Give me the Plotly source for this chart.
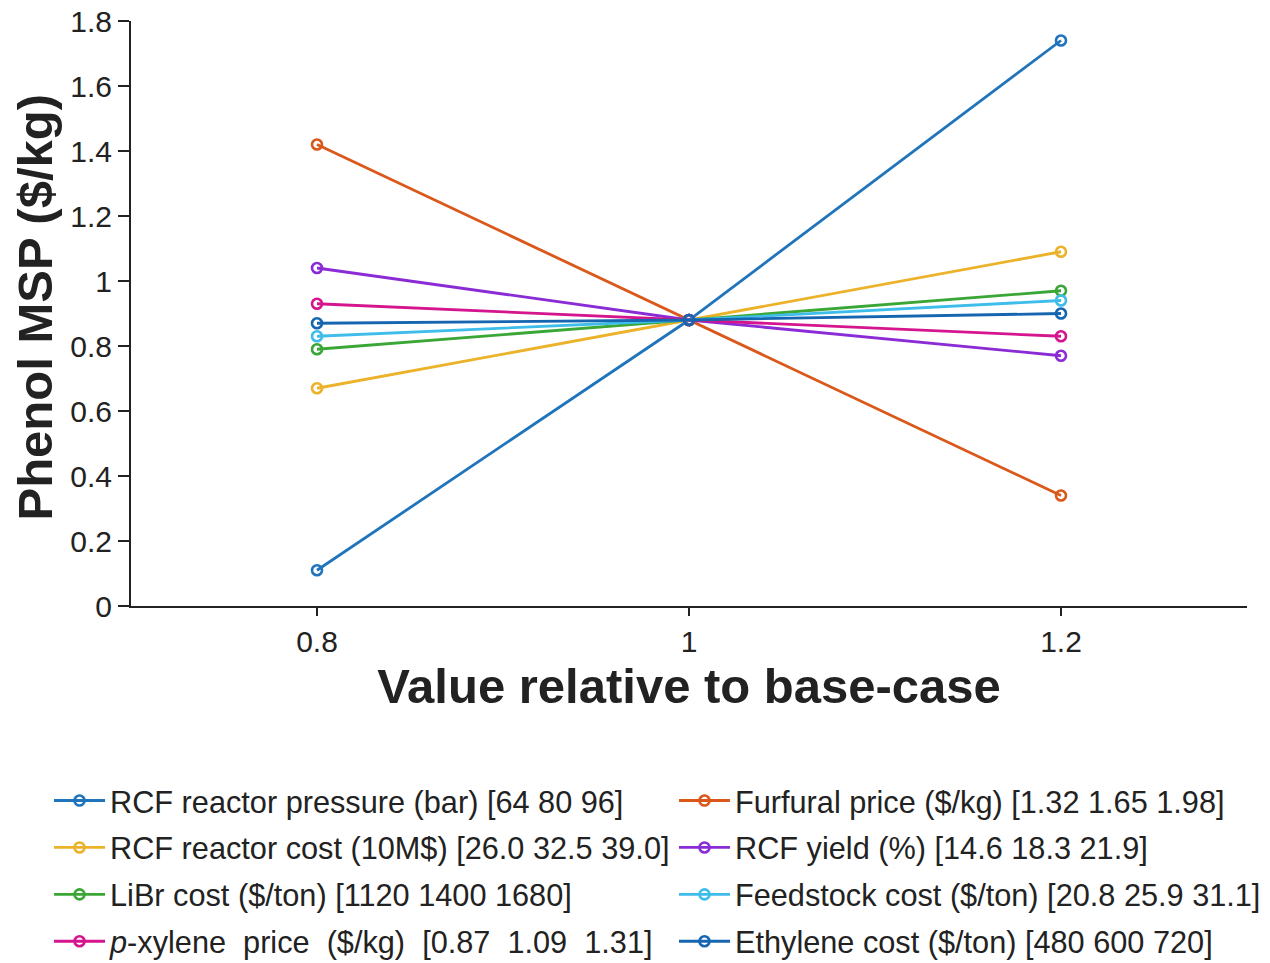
import plotly.graph_objects as go

x_levels = [0.8, 1.0, 1.2]

series_names = [
    "RCF reactor pressure (bar) [64 80 96]",
    "Furfural price ($/kg) [1.32 1.65 1.98]",
    "RCF reactor cost (10M$) [26.0 32.5 39.0]",
    "RCF yield (%) [14.6 18.3 21.9]",
    "LiBr cost ($/ton) [1120 1400 1680]",
    "Feedstock cost ($/ton) [20.8 25.9 31.1]",
    "<i>p</i>-xylene  price  ($/kg)  [0.87  1.09  1.31]",
    "Ethylene cost ($/ton) [480 600 720]",
]

rcf_pressure = [0.11, 0.88, 1.74]
furfural_price = [1.42, 0.88, 0.34]
rcf_reactor_cost = [0.67, 0.88, 1.09]
rcf_yield = [1.04, 0.88, 0.77]
libr_cost = [0.79, 0.88, 0.97]
feedstock_cost = [0.83, 0.88, 0.94]
pxylene_price = [0.93, 0.88, 0.83]
ethylene_cost = [0.87, 0.88, 0.90]

series_values = [rcf_pressure, furfural_price, rcf_reactor_cost, rcf_yield,
                 libr_cost, feedstock_cost, pxylene_price, ethylene_cost]

colors = ["#1F74BC", "#D9581A", "#EBB22A", "#8A2BD6",
          "#3AA636", "#3EBDEB", "#D4158E", "#1565B0"]

y_title = "<b>Phenol MSP ($/kg)</b>"
x_title = "<b>Value relative to base-case</b>"

fig = go.Figure()
for i, (name, vals, c) in enumerate(zip(series_names, series_values, colors)):
    fig.add_trace(go.Scatter(
        x=x_levels, y=vals, name=name, mode="lines+markers",
        line=dict(color=c, width=2.8),
        marker=dict(symbol="circle-open", size=10, color=c, line=dict(width=2.6, color=c)),
        legend="legend" if i % 2 == 0 else "legend2",
        legendgroup=f"g{i}",
    ))

font_family = "Liberation Sans, Arial, sans-serif"
legend_common = dict(
    orientation="v", xanchor="left", yanchor="top",
    xref="container", yref="container",
    font=dict(size=30.7, color="#222222", family=font_family),
    tracegroupgap=4, itemwidth=51, bgcolor="rgba(0,0,0,0)",
)

fig.update_layout(
    width=1270, height=963,
    paper_bgcolor="white", plot_bgcolor="white",
    margin=dict(l=123, r=31, t=13, b=365, autoexpand=False),
    font=dict(family=font_family, color="#222222", size=30),
    showlegend=True,
    legend=dict(x=0.0323, y=0.2045, **legend_common),
    legend2=dict(x=0.5244, y=0.2045, **legend_common),
    xaxis=dict(
        range=[0.7, 1.3], tickvals=[0.8, 1.0, 1.2], ticktext=["0.8", "1", "1.2"],
        showgrid=False, zeroline=False, showline=True, linecolor="#222222", linewidth=2,
        ticks="outside", ticklen=8, tickwidth=2, tickcolor="#222222",
        tickfont=dict(size=30), ticklabeloverflow="allow",
        title=dict(text=x_title, font=dict(size=49), standoff=12),
    ),
    yaxis=dict(
        range=[0, 1.8], tickvals=[0, 0.2, 0.4, 0.6, 0.8, 1.0, 1.2, 1.4, 1.6, 1.8],
        ticktext=["0", "0.2", "0.4", "0.6", "0.8", "1", "1.2", "1.4", "1.6", "1.8"],
        showgrid=False, zeroline=False, showline=True, linecolor="#222222", linewidth=2,
        ticks="outside", ticklen=11, tickwidth=2, tickcolor="#222222",
        tickfont=dict(size=30), ticklabeloverflow="allow",
    ),
    annotations=[dict(
        text=y_title, textangle=-90, font=dict(size=49, color="#222222", family=font_family),
        xref="paper", yref="paper", x=0, y=0.5, xanchor="center", yanchor="middle",
        xshift=-97, yshift=6, showarrow=False,
    )],
)

fig.write_html("out.html")
